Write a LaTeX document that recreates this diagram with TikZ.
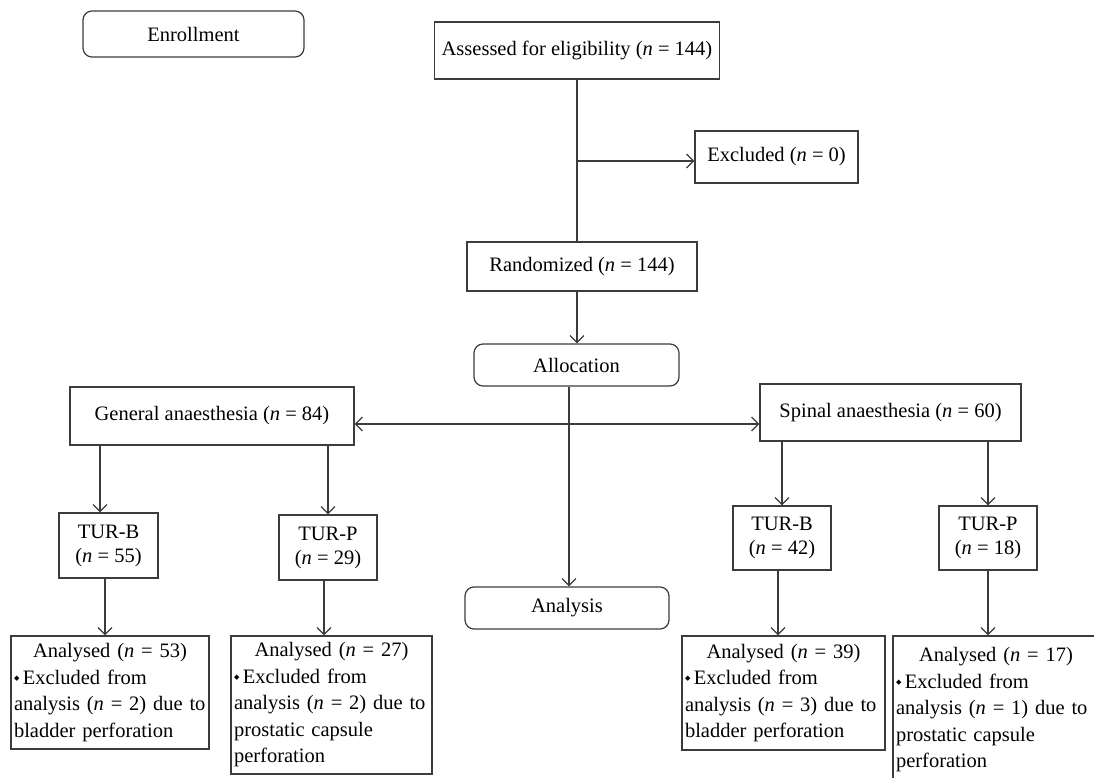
\documentclass[tikz,border=0pt]{standalone}
\usepackage{fontspec}
\setmainfont{Liberation Serif}
\newfontfamily\dejavu{DejaVu Sans}
\usetikzlibrary{arrows.meta}
\definecolor{lc}{RGB}{60,60,60}
\newcommand\fs{\fontsize{20.5}{24}\selectfont}
\newcommand\fsb{\fontsize{20.5}{26.5}\selectfont}
\newcommand\nv{\textit{n}}
\newcommand\bul{\raisebox{4pt}{\dejavu\fontsize{7}{7}\selectfont ◆}\,}
\tikzset{
  box/.style={draw=lc, line width=1.2pt, rectangle, inner sep=0pt, align=center, font=\fs, text=black},
  rbox/.style={box, rounded corners=9pt},
  anl/.style={box, align=left, font=\fsb, inner xsep=3pt},
  arr/.style={-{Straight Barb[length=7pt,width=14pt,line width=1.2pt]}, line width=1.2pt, draw=lc},
  darr/.style={{Straight Barb[length=7pt,width=14pt,line width=1.2pt]}-{Straight Barb[length=7pt,width=14pt,line width=1.2pt]}, line width=1.2pt, draw=lc},
  ln/.style={line width=1.2pt, draw=lc}
}
\begin{document}
\begin{tikzpicture}[x=1pt,y=-1pt]
\useasboundingbox (0,0) rectangle (1094,778);
\fill[white] (0,0) rectangle (1094,778);
% top
\node[rbox, minimum width=221pt, minimum height=46pt] (enrol) at (193.5,34) {Enrollment};
\node[box, minimum width=285pt, minimum height=57pt] (assessed) at (577,50.5) {Assessed for eligibility (\nv{} = 144)};
\node[box, minimum width=163pt, minimum height=52pt] (excluded) at (776.5,157) {Excluded (\nv{} = 0)};
\node[box, minimum width=230pt, minimum height=49pt] (random) at (582,266.5) {Randomized (\nv{} = 144)};
\node[rbox, minimum width=205pt, minimum height=42pt] (alloc) at (576.5,365) {Allocation};
\node[box, minimum width=284pt, minimum height=58pt] (general) at (212,416) {General anaesthesia (\nv{} = 84)};
\node[box, minimum width=261pt, minimum height=57pt] (spinal) at (890.5,412.5) {Spinal anaesthesia (\nv{} = 60)};
\node[rbox, minimum width=204pt, minimum height=42pt] (analysis) at (567,608) {Analysis};
% TUR boxes
\node[box, minimum width=99pt, minimum height=65pt] (tbl) at (108.5,545.5) {TUR-B\\(\nv{} = 55)};
\node[box, minimum width=98pt, minimum height=65pt] (tpl) at (328,547.5) {TUR-P\\(\nv{} = 29)};
\node[box, minimum width=98pt, minimum height=64pt] (tbr) at (782,538) {TUR-B\\(\nv{} = 42)};
\node[box, minimum width=98pt, minimum height=64pt] (tpr) at (988,538) {TUR-P\\(\nv{} = 18)};
% Analysed boxes
\node[anl, text width=192pt, minimum width=198pt, minimum height=113pt] (al1) at (110,692.5)
  {\makebox[\hsize][c]{Analysed (\nv{} = 53)}\\\bul Excluded from\\analysis (\nv{} = 2) due to\\bladder perforation};
\node[anl, text width=195pt, minimum width=201pt, minimum height=138pt] (al2) at (331.5,705)
  {\makebox[\hsize][c]{Analysed (\nv{} = 27)}\\\bul Excluded from\\analysis (\nv{} = 2) due to\\prostatic capsule\\perforation};
\node[anl, text width=197pt, minimum width=203pt, minimum height=114pt] (ar1) at (783.5,693)
  {\makebox[\hsize][c]{Analysed (\nv{} = 39)}\\\bul Excluded from\\analysis (\nv{} = 3) due to\\bladder perforation};
\begin{scope}
\clip (0,0) rectangle (1094,778);
\node[anl, text width=200pt, minimum width=206pt, minimum height=148pt] (ar2) at (996,710)
  {\makebox[\hsize][c]{Analysed (\nv{} = 17)}\\\bul Excluded from\\analysis (\nv{} = 1) due to\\prostatic capsule\\perforation};
\end{scope}
% connectors
\coordinate (brk) at (577,161);
\draw[ln] (assessed.south) -- (assessed.south |- random.north);
\draw[arr] (brk) -- (brk -| excluded.west);
\draw[arr] (assessed.south |- random.south) -- (assessed.south |- alloc.north);
\draw[arr] (569,0 |- alloc.south) -- (569,0 |- analysis.north);
\draw[darr] (general.east |- 0,424) -- (spinal.west |- 0,424);
\draw[arr] (100,0 |- general.south) -- (100,0 |- tbl.north);
\draw[arr] (328,0 |- general.south) -- (328,0 |- tpl.north);
\draw[arr] (105,0 |- tbl.south) -- (105,0 |- al1.north);
\draw[arr] (324,0 |- tpl.south) -- (324,0 |- al2.north);
\draw[arr] (782,0 |- spinal.south) -- (782,0 |- tbr.north);
\draw[arr] (988,0 |- spinal.south) -- (988,0 |- tpr.north);
\draw[arr] (778,0 |- tbr.south) -- (778,0 |- ar1.north);
\draw[arr] (988,0 |- tpr.south) -- (988,0 |- ar2.north);
\end{tikzpicture}
\end{document}
